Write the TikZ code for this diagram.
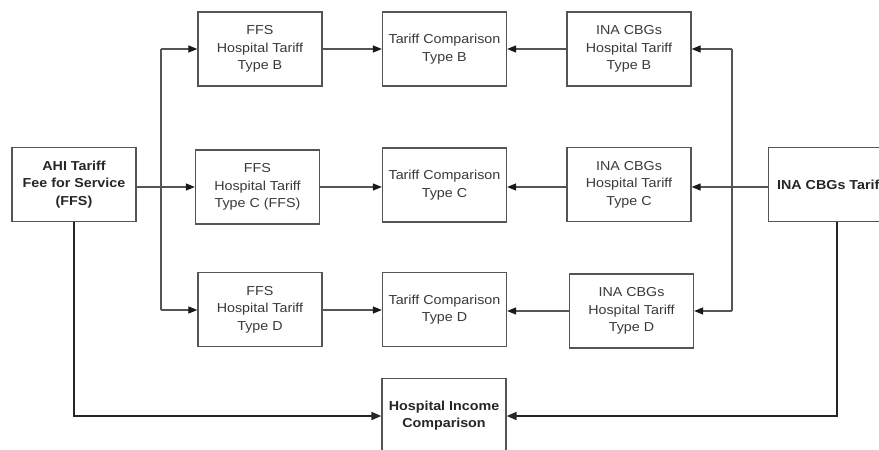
\documentclass[tikz,border=0pt]{standalone}
\usepackage{fontspec}
\setmainfont{Liberation Sans}[FakeStretch=1.1]
\usetikzlibrary{arrows.meta}
\definecolor{boxline}{HTML}{555555}
\definecolor{txt}{HTML}{3A3A3A}
\begin{document}
\begin{tikzpicture}[x=1pt,y=-1pt,
  box/.style={draw=boxline,line width=1.3pt,minimum width=124pt,minimum height=74pt,inner sep=0pt,
    align=center,text=txt,font=\fontsize{13}{17.5}\selectfont},
  bbox/.style={box,font=\fontsize{13}{17.5}\selectfont\bfseries,text=black!85},
  conn/.style={draw=boxline,line width=1.2pt,-{Triangle[length=9pt,width=7pt,color=black!90]}},
  plain/.style={draw=boxline,line width=1.2pt},
  heavy/.style={draw=black!85,line width=2pt,-{Triangle[length=10pt,width=8pt]}}]
\useasboundingbox (0,0) rectangle (879,450);
\fill[white] (0,0) rectangle (879,450);
% nodes
\node[bbox] (ahi) at (74,184.5) {AHI Tariff\\Fee for Service\\(FFS)};
\node[bbox,anchor=west] (ina) at (768,184.5) {INA CBGs Tariff};
\node[box] (ffsb) at (260,49) {FFS\\Hospital Tariff\\Type B};
\node[box] (ffsc) at (257.5,187) {FFS\\Hospital Tariff\\Type C (FFS)};
\node[box] (ffsd) at (260,309.5) {FFS\\Hospital Tariff\\Type D};
\node[box] (tcb) at (444.5,49) {Tariff Comparison\\Type B};
\node[box] (tcc) at (444.5,185) {Tariff Comparison\\Type C};
\node[box] (tcd) at (444.5,309.5) {Tariff Comparison\\Type D};
\node[box] (inab) at (629,49) {INA CBGs\\Hospital Tariff\\Type B};
\node[box] (inac) at (629,184.5) {INA CBGs\\Hospital Tariff\\Type C};
\node[box] (inad) at (631.5,311) {INA CBGs\\Hospital Tariff\\Type D};
\node[bbox,anchor=north] (hic) at (444,378) {Hospital Income\\Comparison};
% coordinates
\coordinate (lt) at (161,49);
\coordinate (lb) at (161,310);
\coordinate (rt) at (732,49);
\coordinate (rb) at (732,311);
\coordinate (ahid) at (74,416);
\coordinate (inadn) at (837,416);
% left feed
\draw[conn] (ahi.east |- 0,187) -- (ffsc.west |- 0,187);
\draw[plain] (lt) -- (lb);
\draw[conn] (lt) -- (ffsb.west |- lt);
\draw[conn] (lb) -- (ffsd.west |- lb);
% ffs to comparison
\draw[conn] (ffsb.east) -- (tcb.west |- ffsb.east);
\draw[conn] (ffsc.east |- 0,187) -- (tcc.west |- 0,187);
\draw[conn] (ffsd.east |- 0,310) -- (tcd.west |- 0,310);
% ina to comparison
\draw[conn] (inab.west) -- (tcb.east |- inab.west);
\draw[conn] (inac.west |- 0,187) -- (tcc.east |- 0,187);
\draw[conn] (inad.west) -- (tcd.east |- inad.west);
% right feed
\draw[conn] (ina.west |- 0,187) -- (inac.east |- 0,187);
\draw[plain] (rt) -- (rb);
\draw[conn] (rt) -- (inab.east |- rt);
\draw[conn] (rb) -- (inad.east |- rb);
% bottom
\draw[heavy] (ahi.south) -- (ahid) -- (hic.west |- ahid);
\draw[heavy] (ina.south -| inadn) -- (inadn) -- (hic.east |- inadn);
\end{tikzpicture}
\end{document}
